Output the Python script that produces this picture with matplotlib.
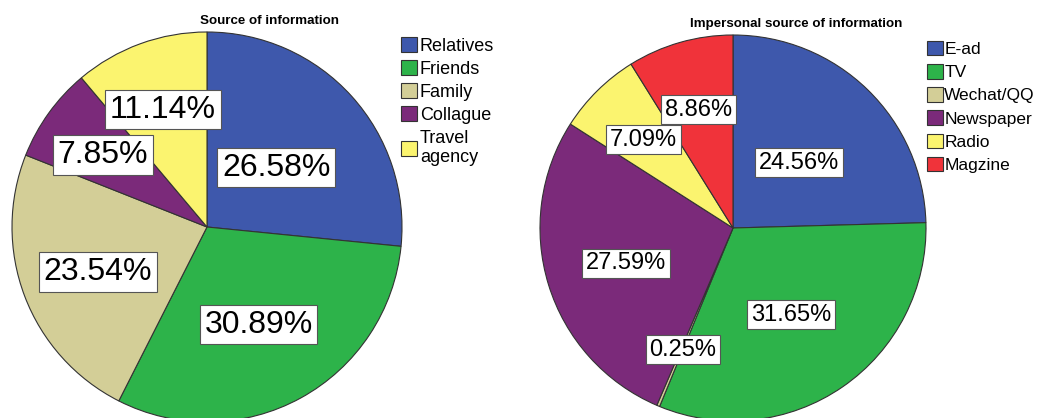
import numpy as np
import matplotlib.pyplot as plt

# Personal sources
src_labels = ['Relatives', 'Friends', 'Family', 'Collague', 'Travel\nagency']
src_values = [26.58, 30.89, 23.54, 7.85, 11.14]

# Impersonal sources
imp_labels = ['E-ad', 'TV', 'Wechat/QQ', 'Newspaper', 'Radio', 'Magzine']
imp_values = [24.56, 31.65, 0.25, 27.59, 7.09, 8.86]

src_colors = ['#3e58ac', '#2db34a', '#d3ce97', '#7b2a7a', '#fbf46f']
imp_colors = ['#3e58ac', '#2db34a', '#d3ce97', '#7b2a7a', '#fbf46f', '#f0333a']

W, H = 1046, 418
fig = plt.figure(figsize=(W / 100, H / 100), dpi=100)
plt.rcParams['font.family'] = ['Liberation Sans', 'DejaVu Sans']


def pie_axes(cx, cy, r):
    # axes in pixel terms, radius-1 pie fills it
    return fig.add_axes([(cx - r) / W, (H - cy - r) / H, 2 * r / W, 2 * r / H])


def draw_pie(ax, values, colors, label_r, fontsize):
    wedges, _ = ax.pie(values, colors=colors, startangle=90, counterclock=False,
                       wedgeprops=dict(edgecolor='#333333', linewidth=0.8))
    for w, v, lr in zip(wedges, values, label_r):
        ang = np.deg2rad((w.theta1 + w.theta2) / 2)
        ax.text(lr * np.cos(ang), lr * np.sin(ang), f'{v:.2f}%',
                ha='center', va='center_baseline', fontsize=fontsize,
                bbox=dict(boxstyle='square,pad=0.15', fc='white', ec='#555555', lw=0.8))
    ax.set_xlim(-1, 1)
    ax.set_ylim(-1, 1)
    ax.set_aspect('equal')
    ax.axis('off')
    for w in wedges:
        w.set_clip_on(False)
    return wedges


ax1 = pie_axes(207, 227, 195)
w1 = draw_pie(ax1, src_values, src_colors, [0.48, 0.55, 0.6, 0.66, 0.66], 23)
fig.text(270 / W, 1 - 21 / H, 'Source of information', ha='center', va='center',
         fontsize=9.6, fontweight='bold')
fig.legend(w1, src_labels, loc='upper left', bbox_to_anchor=(401 / W, 1 - 37 / H),
           frameon=False, fontsize=13, handlelength=0.9, handleheight=0.9,
           handletextpad=0.15, labelspacing=0.3, borderpad=0, borderaxespad=0)

ax2 = pie_axes(733, 228, 193)
w2 = draw_pie(ax2, imp_values, imp_colors, [0.49, 0.53, 0.67, 0.58, 0.66, 0.65], 17)
fig.text(796 / W, 1 - 24 / H, 'Impersonal source of information', ha='center',
         va='center', fontsize=9.6, fontweight='bold')
fig.legend(w2, imp_labels, loc='upper left', bbox_to_anchor=(927 / W, 1 - 41 / H),
           frameon=False, fontsize=12.5, handlelength=0.9, handleheight=0.9,
           handletextpad=0.1, labelspacing=0.4, borderpad=0, borderaxespad=0)

plt.savefig('out.png', dpi=100)
